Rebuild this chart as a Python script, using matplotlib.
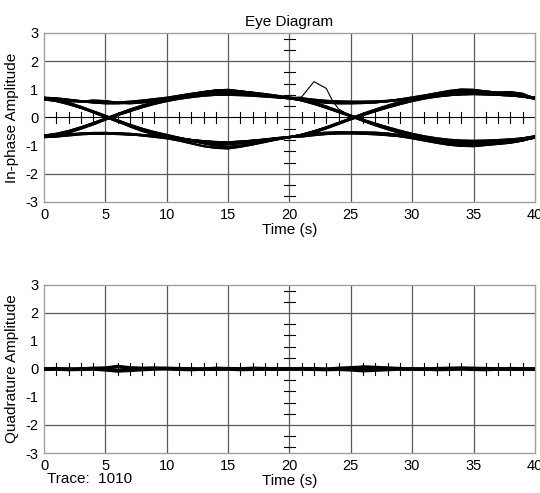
import numpy as np
import matplotlib.pyplot as plt

plt.rcParams['font.family'] = ['Liberation Sans', 'DejaVu Sans']
plt.rcParams['axes.unicode_minus'] = False

# sample times
t_full = np.arange(0, 41)

# in-phase segments, first symbol (0..20 s)
hh_a = [0.68, 0.66, 0.62, 0.57, 0.53, 0.50, 0.50, 0.52, 0.56, 0.61, 0.67, 0.73, 0.79, 0.84, 0.88, 0.88, 0.85, 0.82, 0.78, 0.73, 0.69]
hh_b = [0.64, 0.62, 0.58, 0.56, 0.60, 0.58, 0.52, 0.50, 0.53, 0.58, 0.64, 0.70, 0.75, 0.80, 0.83, 0.84, 0.82, 0.80, 0.76, 0.72, 0.67]
hh_c = [0.70, 0.68, 0.63, 0.58, 0.54, 0.52, 0.53, 0.56, 0.60, 0.65, 0.70, 0.77, 0.84, 0.90, 0.95, 0.96, 0.92, 0.88, 0.83, 0.77, 0.71]
hl_a = [0.68, 0.62, 0.50, 0.35, 0.18, 0.02, -0.15, -0.30, -0.43, -0.55, -0.65, -0.73, -0.80, -0.86, -0.90, -0.92, -0.88, -0.84, -0.79, -0.74, -0.70]
hl_b = [0.64, 0.58, 0.47, 0.34, 0.20, 0.05, -0.10, -0.26, -0.40, -0.52, -0.62, -0.72, -0.82, -0.92, -1.00, -1.04, -1.00, -0.93, -0.85, -0.77, -0.70]
hl_c = [0.70, 0.64, 0.52, 0.38, 0.22, 0.06, -0.12, -0.32, -0.48, -0.60, -0.68, -0.74, -0.80, -0.85, -0.88, -0.88, -0.86, -0.82, -0.78, -0.73, -0.69]
lh_a = [-0.68, -0.62, -0.52, -0.38, -0.22, -0.06, 0.10, 0.26, 0.40, 0.52, 0.62, 0.70, 0.77, 0.83, 0.87, 0.88, 0.85, 0.81, 0.77, 0.73, 0.69]
lh_b = [-0.64, -0.58, -0.48, -0.35, -0.20, -0.04, 0.12, 0.28, 0.42, 0.55, 0.65, 0.74, 0.82, 0.90, 0.96, 0.98, 0.93, 0.87, 0.80, 0.74, 0.68]
lh_c = [-0.70, -0.64, -0.54, -0.40, -0.25, -0.08, 0.08, 0.22, 0.36, 0.48, 0.58, 0.66, 0.72, 0.77, 0.80, 0.80, 0.79, 0.77, 0.74, 0.71, 0.68]
ll_a = [-0.68, -0.66, -0.62, -0.58, -0.56, -0.55, -0.56, -0.58, -0.62, -0.66, -0.71, -0.77, -0.84, -0.90, -0.94, -0.95, -0.92, -0.87, -0.81, -0.75, -0.70]
ll_b = [-0.64, -0.62, -0.60, -0.57, -0.55, -0.55, -0.57, -0.60, -0.64, -0.69, -0.74, -0.82, -0.92, -1.02, -1.08, -1.10, -1.04, -0.96, -0.87, -0.78, -0.71]
ll_c = [-0.70, -0.68, -0.64, -0.60, -0.58, -0.58, -0.59, -0.61, -0.63, -0.66, -0.70, -0.75, -0.80, -0.84, -0.87, -0.88, -0.86, -0.83, -0.79, -0.75, -0.70]

# in-phase segments, second symbol (20..40 s)
hh2_a = [0.69, 0.66, 0.60, 0.56, 0.54, 0.53, 0.53, 0.54, 0.57, 0.62, 0.68, 0.74, 0.80, 0.86, 0.90, 0.90, 0.87, 0.84, 0.83, 0.78, 0.70]
hh2_b = [0.67, 0.62, 0.56, 0.52, 0.50, 0.50, 0.51, 0.53, 0.58, 0.64, 0.71, 0.78, 0.86, 0.94, 0.99, 0.98, 0.92, 0.88, 0.90, 0.84, 0.66]
hh2_c = [0.71, 0.68, 0.63, 0.59, 0.57, 0.56, 0.56, 0.57, 0.59, 0.63, 0.67, 0.71, 0.75, 0.79, 0.82, 0.83, 0.82, 0.80, 0.78, 0.74, 0.68]
hl2_a = [0.69, 0.62, 0.50, 0.36, 0.20, 0.05, -0.10, -0.25, -0.38, -0.50, -0.62, -0.72, -0.80, -0.86, -0.90, -0.92, -0.90, -0.87, -0.84, -0.80, -0.72]
hl2_b = [0.67, 0.60, 0.48, 0.34, 0.19, 0.04, -0.12, -0.28, -0.42, -0.55, -0.66, -0.76, -0.86, -0.94, -0.99, -1.00, -0.96, -0.92, -0.88, -0.82, -0.70]
hl2_c = [0.71, 0.64, 0.53, 0.39, 0.23, 0.07, -0.08, -0.22, -0.35, -0.47, -0.58, -0.67, -0.74, -0.79, -0.82, -0.83, -0.82, -0.80, -0.78, -0.74, -0.67]
lh2_a = [-0.70, -0.62, -0.50, -0.36, -0.20, -0.05, 0.10, 0.25, 0.38, 0.50, 0.62, 0.72, 0.80, 0.86, 0.90, 0.90, 0.88, 0.85, 0.83, 0.78, 0.70]
lh2_b = [-0.68, -0.61, -0.49, -0.35, -0.19, -0.03, 0.13, 0.28, 0.42, 0.55, 0.66, 0.75, 0.83, 0.90, 0.95, 0.96, 0.92, 0.88, 0.86, 0.80, 0.68]
lh2_c = [-0.72, -0.65, -0.53, -0.39, -0.23, -0.07, 0.08, 0.22, 0.35, 0.47, 0.58, 0.67, 0.74, 0.79, 0.82, 0.83, 0.82, 0.80, 0.78, 0.74, 0.66]
ll2_a = [-0.70, -0.65, -0.60, -0.56, -0.54, -0.53, -0.53, -0.54, -0.57, -0.62, -0.68, -0.75, -0.82, -0.88, -0.93, -0.95, -0.93, -0.90, -0.86, -0.80, -0.72]
ll2_b = [-0.68, -0.62, -0.57, -0.54, -0.53, -0.54, -0.56, -0.58, -0.62, -0.67, -0.74, -0.82, -0.90, -0.97, -1.01, -1.02, -0.98, -0.94, -0.90, -0.82, -0.70]
ll2_c = [-0.72, -0.68, -0.63, -0.59, -0.57, -0.57, -0.58, -0.60, -0.63, -0.66, -0.70, -0.74, -0.78, -0.81, -0.84, -0.86, -0.85, -0.82, -0.79, -0.75, -0.67]

first_segments = {'hh_a': hh_a, 'hh_b': hh_b, 'hh_c': hh_c, 'hl_a': hl_a, 'hl_b': hl_b, 'hl_c': hl_c,
                  'lh_a': lh_a, 'lh_b': lh_b, 'lh_c': lh_c, 'll_a': ll_a, 'll_b': ll_b, 'll_c': ll_c}
second_segments = {'hh2_a': hh2_a, 'hh2_b': hh2_b, 'hh2_c': hh2_c, 'hl2_a': hl2_a, 'hl2_b': hl2_b, 'hl2_c': hl2_c,
                   'lh2_a': lh2_a, 'lh2_b': lh2_b, 'lh2_c': lh2_c, 'll2_a': ll2_a, 'll2_b': ll2_b, 'll2_c': ll2_c}

# which segments make up each trace
trace_list = [('hh_a', 'hh2_a'), ('hh_b', 'hl2_a'), ('hh_c', 'hh2_b'), ('hh_a', 'hl2_b'),
              ('hh_c', 'hh2_c'), ('hh_b', 'hl2_c'),
              ('hl_a', 'll2_a'), ('hl_b', 'lh2_a'), ('hl_c', 'll2_b'), ('hl_a', 'lh2_b'),
              ('hl_c', 'll2_c'), ('hl_b', 'lh2_c'),
              ('lh_a', 'hh2_a'), ('lh_b', 'hl2_b'), ('lh_c', 'hh2_b'), ('lh_a', 'hl2_a'),
              ('lh_c', 'hh2_c'), ('lh_b', 'hl2_c'),
              ('ll_a', 'll2_a'), ('ll_b', 'lh2_a'), ('ll_c', 'll2_b'), ('ll_b', 'lh2_b'),
              ('ll_a', 'll2_c'), ('ll_c', 'lh2_c')]

# odd spike in one trace
spike_t = [20, 21, 22, 23, 23.5, 24, 25]
spike_y = [0.69, 0.73, 1.27, 1.03, 0.60, 0.30, 0.05]

# quadrature traces (close to zero)
quad_a = [0.00, 0.01, -0.01, 0.00, 0.02, 0.03, 0.08, 0.04, 0.02, 0.03, 0.02, 0.01, 0.00, -0.01, 0.02, 0.01, 0.00, 0.02, 0.01, 0.00, 0.00,
          0.01, 0.00, -0.01, 0.02, 0.04, 0.06, 0.05, 0.03, 0.01, 0.00, -0.01, 0.01, 0.02, 0.03, 0.02, 0.01, 0.00, 0.01, 0.00, 0.00]
quad_b = [-0.01, 0.00, -0.02, -0.01, 0.00, -0.03, -0.07, -0.05, -0.02, 0.00, 0.01, -0.01, -0.02, 0.00, -0.01, 0.00, -0.02, -0.01, 0.00, -0.01, 0.00,
          0.00, -0.01, -0.02, -0.01, -0.03, -0.06, -0.04, -0.02, 0.00, -0.01, 0.00, -0.02, -0.01, 0.00, -0.01, -0.02, 0.00, -0.01, 0.00, -0.01]
quad_c = [0.00, 0.00, 0.01, 0.00, 0.01, 0.02, 0.12, 0.03, 0.00, 0.01, 0.03, 0.02, 0.01, 0.00, 0.00, 0.02, 0.01, 0.00, 0.02, 0.01, 0.00,
          0.01, 0.02, 0.00, 0.01, 0.02, 0.09, 0.07, 0.04, 0.02, 0.01, 0.00, 0.00, 0.01, 0.02, 0.03, 0.01, 0.00, 0.00, 0.01, 0.00]

x_ticks = [0, 5, 10, 15, 20, 25, 30, 35, 40]
y_ticks = [-3, -2, -1, 0, 1, 2, 3]
grid_color = '#5a5a5a'
spine_color = '#a0a0a0'


def decorate(ax, ylabel):
    ax.set_xlim(0, 40)
    ax.set_ylim(-3, 3)
    ax.set_xticks(x_ticks)
    ax.set_yticks(y_ticks)
    ax.tick_params(length=0, labelsize=10.5, pad=4)
    for s in ax.spines.values():
        s.set_color(spine_color)
        s.set_linewidth(1.0)
    for x in x_ticks[1:-1]:
        ax.axvline(x, color=grid_color, lw=0.9, zorder=1)
    for y in [-2, 2]:
        ax.axhline(y, color=grid_color, lw=0.9, zorder=1)
    ax.axhline(0, color='black', lw=0.8, zorder=1)
    # crosshair ticks
    for x in range(1, 40):
        if x % 5:
            ax.plot([x, x], [-0.2, 0.2], color='black', lw=0.8, zorder=1)
    for y in [0.4, 0.8, 1.2, 1.6, 2.4, 2.8]:
        for s in (1, -1):
            ax.plot([19.55, 20.45], [s * y, s * y], color='black', lw=0.8, zorder=1)
    ax.set_xlabel('Time (s)', fontsize=11, labelpad=1)
    ax.set_ylabel(ylabel, fontsize=11, labelpad=5)


fig = plt.figure(figsize=(5.4, 4.93), dpi=100)
ax1 = fig.add_axes([0.0815, 0.5903, 0.909, 0.343])
ax2 = fig.add_axes([0.0815, 0.0811, 0.909, 0.341])

for first, second in trace_list:
    y = list(first_segments[first]) + list(second_segments[second])[1:]
    ax1.plot(t_full, y, color='black', lw=1.5, zorder=3)
ax1.plot(spike_t, spike_y, color='black', lw=0.8, zorder=3)
decorate(ax1, 'In-phase Amplitude')
ax1.set_title('Eye Diagram', fontsize=11, pad=5)

for q, lw in [(quad_a, 2.6), (quad_b, 2.6), (quad_c, 1.4)]:
    ax2.plot(t_full, q, color='black', lw=lw, zorder=3)
decorate(ax2, 'Quadrature Amplitude')

fig.text(0.087, 0.02, 'Trace:  1010', fontsize=11)

plt.savefig('out.png', dpi=100)
